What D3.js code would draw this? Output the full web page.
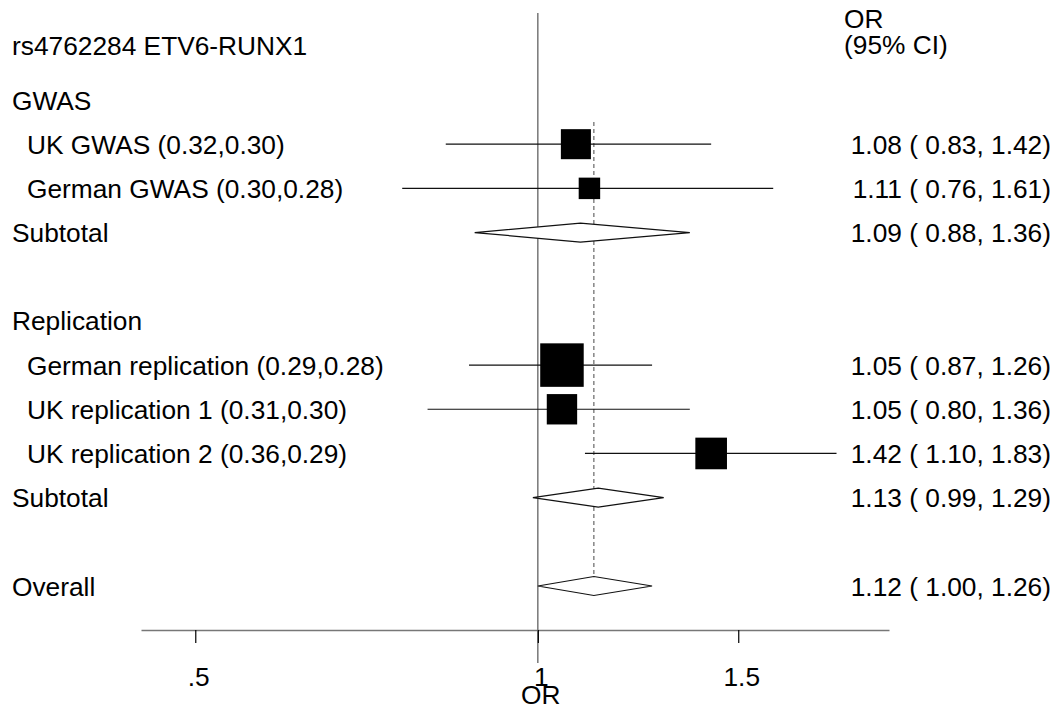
<!DOCTYPE html>
<html>
<head>
<meta charset="utf-8">
<script src="https://cdn.jsdelivr.net/npm/d3@7"></script>
<style>
  html, body { margin: 0; padding: 0; background: #fff; }
  svg { display: block; font-family: "Liberation Sans", Arial, Helvetica, sans-serif; }
</style>
</head>
<body>
<svg id="chart" width="1056" height="710"></svg>
<script>
// Individual studies
const studyLabels = [
  "UK GWAS (0.32,0.30)",
  "German GWAS (0.30,0.28)",
  "German replication (0.29,0.28)",
  "UK replication 1 (0.31,0.30)",
  "UK replication 2 (0.36,0.29)"
];
const studyOR = [1.08, 1.11, 1.05, 1.05, 1.42];
const studyLo = [0.83, 0.76, 0.87, 0.80, 1.10];
const studyHi = [1.42, 1.61, 1.26, 1.36, 1.83];
const studyWeight = [17.4, 8.9, 36.5, 17.8, 19.3];   // % weight
const studyRow = [1, 2, 6, 7, 8];

// Group headings
const groupLabels = ["GWAS", "Replication"];
const groupRow = [0, 5];

// Pooled estimates
const pooledLabels = ["Subtotal", "Subtotal", "Overall"];
const pooledOR = [1.09, 1.13, 1.12];
const pooledLo = [0.88, 0.99, 1.00];
const pooledHi = [1.36, 1.29, 1.26];
const pooledRow = [3, 9, 11];

// Axis
const tickValues = [0.5, 1, 1.5];
const tickLabels = [".5", "1", "1.5"];
const overallOR = 1.12;

const svg = d3.select("#chart");
const fontSize = 26.3;
const fmt = d3.format(".2f");

const x = d3.scaleLog().domain([0.448, 2.035]).range([141, 889]);
const y = d3.scaleLinear().domain([0, 11]).range([100, 586]);
const side = d3.scaleSqrt().domain([0, 100]).range([0, 72]);
const axisY = 630;
const diamondHalf = 9.5;

// Header
svg.append("text").attr("x", 12).attr("y", 55).attr("font-size", fontSize)
  .text("rs4762284 ETV6-RUNX1");
svg.append("text").attr("x", 844).attr("y", 28).attr("font-size", fontSize).text("OR");
svg.append("text").attr("x", 844).attr("y", 54).attr("font-size", fontSize).text("(95% CI)");

// Null line at OR = 1
svg.append("line")
  .attr("x1", x(1)).attr("x2", x(1))
  .attr("y1", 13).attr("y2", 663)
  .attr("stroke", "#555").attr("stroke-width", 1.2);

// Overall estimate line
svg.append("line")
  .attr("x1", x(overallOR)).attr("x2", x(overallOR))
  .attr("y1", 122).attr("y2", y(11) - diamondHalf)
  .attr("stroke", "#666").attr("stroke-width", 1.2)
  .attr("stroke-dasharray", "4,3");

// X axis
const axis = d3.axisBottom(x)
  .tickValues(tickValues)
  .tickFormat((d, i) => tickLabels[i])
  .tickSize(13)
  .tickSizeOuter(0);
const gAxis = svg.append("g").attr("transform", `translate(0,${axisY})`).call(axis);
gAxis.select(".domain").attr("stroke", "#777").attr("stroke-width", 1.5);
gAxis.selectAll(".tick line").attr("stroke", "#000").attr("stroke-width", 1.2);
gAxis.selectAll(".tick text")
  .attr("font-size", fontSize)
  .attr("font-family", "Liberation Sans, Arial, sans-serif")
  .attr("fill", "#000")
  .attr("y", 56).attr("dy", 0).attr("dx", 3);
svg.append("text").attr("x", x(1) + 3).attr("y", 704)
  .attr("text-anchor", "middle").attr("font-size", fontSize).text("OR");

// Group headings
svg.selectAll(".group").data(groupLabels).join("text")
  .attr("class", "group")
  .attr("x", 12).attr("y", (d, i) => y(groupRow[i]) + 9.5)
  .attr("font-size", fontSize).text(d => d);

// Study rows
const studies = studyLabels.map((label, i) => ({
  label, or: studyOR[i], lo: studyLo[i], hi: studyHi[i], w: studyWeight[i], row: studyRow[i]
}));
const gs = svg.selectAll(".study").data(studies).join("g").attr("class", "study");
gs.append("text")
  .attr("x", 27).attr("y", d => y(d.row) + 9.5)
  .attr("font-size", fontSize).text(d => d.label);
gs.append("line")
  .attr("x1", d => x(d.lo)).attr("x2", d => x(d.hi))
  .attr("y1", d => y(d.row)).attr("y2", d => y(d.row))
  .attr("stroke", "#111").attr("stroke-width", 1.2);
gs.append("rect")
  .attr("x", d => x(d.or) - side(d.w) / 2)
  .attr("y", d => y(d.row) - side(d.w) / 2)
  .attr("width", d => side(d.w)).attr("height", d => side(d.w))
  .attr("fill", "#000");
gs.append("text")
  .attr("x", 1051).attr("y", d => y(d.row) + 9.5)
  .attr("text-anchor", "end").attr("font-size", fontSize)
  .text(d => `${fmt(d.or)} ( ${fmt(d.lo)}, ${fmt(d.hi)})`);

// Pooled rows
const pooled = pooledLabels.map((label, i) => ({
  label, or: pooledOR[i], lo: pooledLo[i], hi: pooledHi[i], row: pooledRow[i]
}));
const gp = svg.selectAll(".pooled").data(pooled).join("g").attr("class", "pooled");
gp.append("text")
  .attr("x", 12).attr("y", d => y(d.row) + 9.5)
  .attr("font-size", fontSize).text(d => d.label);
gp.append("path")
  .attr("d", d => {
    const cy = y(d.row);
    return `M${x(d.lo)},${cy}L${x(d.or)},${cy - diamondHalf}L${x(d.hi)},${cy}L${x(d.or)},${cy + diamondHalf}Z`;
  })
  .attr("fill", "#fff").attr("stroke", "#111").attr("stroke-width", 1.2);
gp.append("text")
  .attr("x", 1051).attr("y", d => y(d.row) + 9.5)
  .attr("text-anchor", "end").attr("font-size", fontSize)
  .text(d => `${fmt(d.or)} ( ${fmt(d.lo)}, ${fmt(d.hi)})`);
</script>
</body>
</html>
